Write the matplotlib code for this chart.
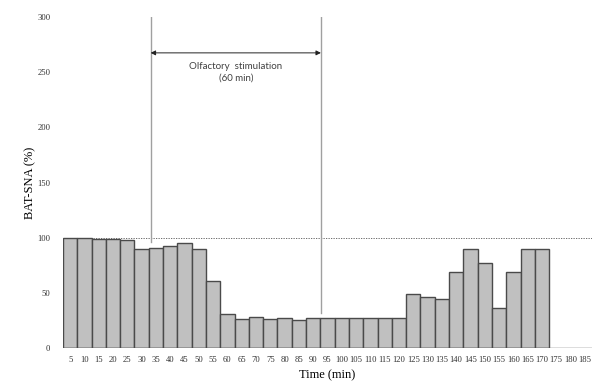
import matplotlib.pyplot as plt
import numpy as np

# Datos
# -----------------------------------------------------------------------------
tiempos = [5, 10, 15, 20, 25, 30, 35, 40, 45, 50, 55, 60, 65, 70, 75, 80, 85,
           90, 95, 100, 105, 110, 115, 120, 125, 130, 135, 140, 145, 150, 155,
           160, 165, 170, 175, 180, 185]
bat_sna = [100, 99.5, 99, 99, 98, 89.5, 91, 92, 95.5, 89.5, 61, 30.5, 26, 28,
           26.7, 27.5, 25, 27, 27, 27.5, 27.5, 27.5, 27.5, 26.8, 48.5, 46.5,
           44.7, 69, 89.5, 77.3, 36.3, 68.5, 89.5, 89.5]
inicio_estimulo = 5.63
fin_estimulo = 17.54
texto_estimulo = "Olfactory  stimulation\n(60 min)"

# Grafico
# -----------------------------------------------------------------------------
fig = plt.figure(figsize=(5.92, 3.85), dpi=100)
ax = fig.add_axes([0.1064, 0.0961, 0.8936, 0.8597])

pos = np.arange(len(bat_sna))
ax.bar(pos, bat_sna, width=1.0, color="#c0c0c0", edgecolor="#4a4a4a",
       linewidth=1.0, zorder=2)

ax.axhline(100, color="#555555", linestyle=(0, (1.5, 1.5)), linewidth=0.6,
           zorder=1)
ax.axhline(0, color="#555555", linewidth=1.0, zorder=3)

ax.plot([inicio_estimulo, inicio_estimulo], [96, 300], color="#a0a0a0",
        linewidth=1.0, zorder=1)
ax.plot([fin_estimulo, fin_estimulo], [32, 300], color="#a0a0a0",
        linewidth=1.0, zorder=1)
ax.annotate("", xy=(inicio_estimulo, 267.5), xytext=(fin_estimulo, 267.5),
            arrowprops=dict(arrowstyle="<|-|>", color="#222222", lw=0.7,
                            mutation_scale=7, shrinkA=0, shrinkB=0))
ax.text((inicio_estimulo + fin_estimulo) / 2, 250, texto_estimulo,
        ha="center", va="center", fontsize=7, color="#404040",
        family="Lato", linespacing=1.3)

ax.set_xlim(-0.5, len(tiempos) - 0.5)
ax.set_ylim(0, 300)
ax.set_xticks(np.arange(len(tiempos)))
ax.set_xticklabels([str(t) for t in tiempos], family="Liberation Serif",
                   fontsize=6.2)
ax.set_yticks([0, 50, 100, 150, 200, 250, 300])
ax.set_yticklabels(["0", "50", "100", "150", "200", "250", "300"],
                   family="Liberation Serif", fontsize=6.2)
ax.tick_params(axis="both", length=0, colors="#333333")
ax.tick_params(axis="x", pad=6)
ax.tick_params(axis="y", pad=9)

for lado in ["top", "right", "left", "bottom"]:
    ax.spines[lado].set_visible(False)

ax.set_xlabel("Time (min)", family="Liberation Serif", fontsize=9)
ax.set_ylabel("BAT-SNA (%)", family="Liberation Serif", fontsize=9)
ax.xaxis.set_label_coords(0.5, -0.063)
ax.yaxis.set_label_coords(-0.05, 0.5)

fig.savefig("out.png", dpi=100)
